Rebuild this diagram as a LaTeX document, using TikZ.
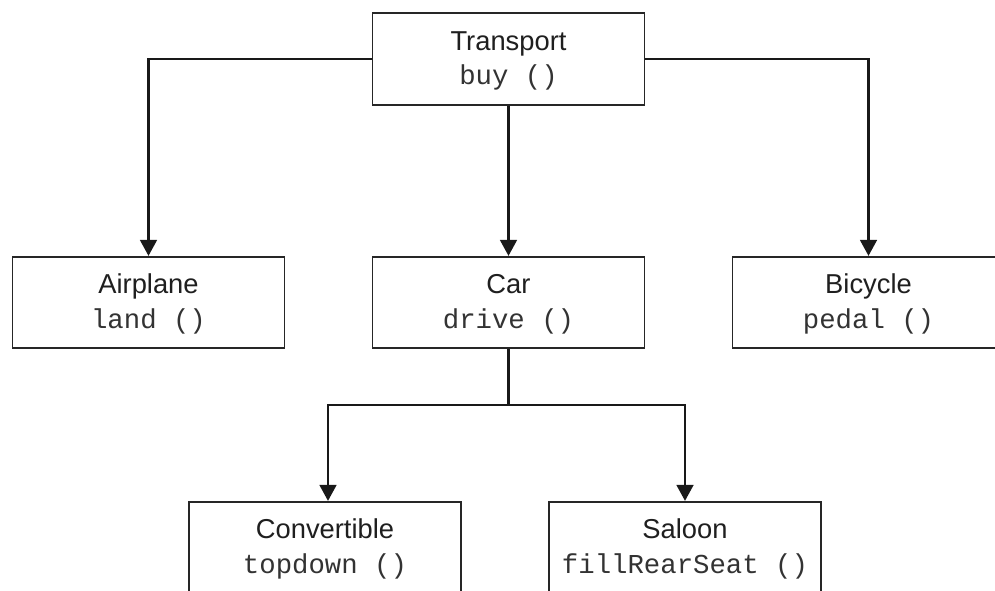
\documentclass[tikz,border=0pt]{standalone}
\usepackage{fontspec}
\setmainfont{Liberation Sans}
\setmonofont{Liberation Mono}
\usetikzlibrary{arrows.meta}
\begin{document}
\begin{tikzpicture}[x=0.75pt,y=-0.75pt,
  cls/.style={draw=black!85, line width=1.4pt, minimum width=204pt, minimum height=68.5pt,
    inner sep=0pt, align=center, text=black!88, font=\fontsize{20.5}{26}\selectfont},
  mono/.style={},
  conn/.style={line width=2pt, draw=black!90},
  arr/.style={conn, -{Triangle[length=12pt,width=12.5pt]}}]
\clip (0,0) rectangle (995,591);
\fill[white] (0,0) rectangle (995,591);
\node[cls] (t) at (508.5,59) {\rule{0pt}{17pt}Transport\\\texttt{\color{black!80}buy ()}};
\node[cls] (a) at (148.5,302.5) {\rule{0pt}{17pt}Airplane\\\texttt{\color{black!80}land ()}};
\node[cls] (c) at (508.5,302.5) {\rule{0pt}{17pt}Car\\\texttt{\color{black!80}drive ()}};
\node[cls] (b) at (868.5,302.5) {\rule{0pt}{17pt}Bicycle\\\texttt{\color{black!80}pedal ()}};
\node[cls] (v) at (325,547.5) {\rule{0pt}{17pt}Convertible\\\texttt{\color{black!80}topdown ()}};
\node[cls] (s) at (685,547.5) {\rule{0pt}{17pt}Saloon\\\texttt{\color{black!80}fillRearSeat ()}};
\coordinate (j) at (508.5,405);
\draw[arr] (t.west) -| (a.north);
\draw[arr] (t.east) -| (b.north);
\draw[arr] (t.south) -- (c.north);
\draw[conn] (c.south) -- (j);
\draw[arr] (j) -| ([xshift=2.25pt]v.north);
\draw[arr] (j) -| (s.north);
\end{tikzpicture}
\end{document}
